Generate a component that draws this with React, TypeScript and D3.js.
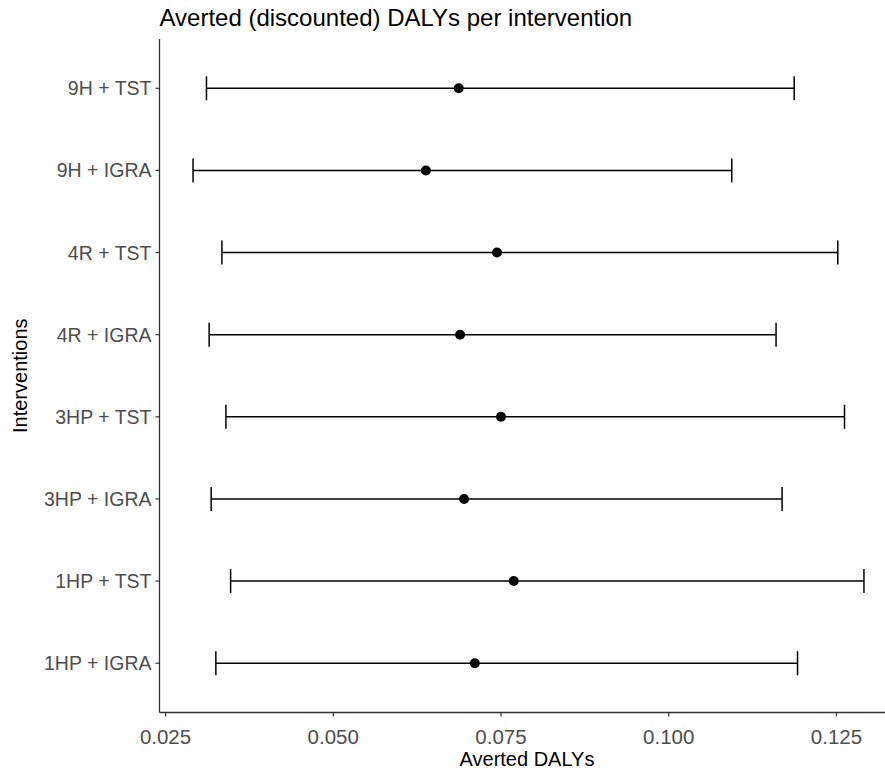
import React from "react";
import * as d3 from "d3";

const interventions = [
  "9H + TST",
  "9H + IGRA",
  "4R + TST",
  "4R + IGRA",
  "3HP + TST",
  "3HP + IGRA",
  "1HP + TST",
  "1HP + IGRA",
];
const meanDalys = [0.0687, 0.0638, 0.0744, 0.0689, 0.075, 0.0695, 0.0769, 0.0711];
const lowerDalys = [0.0311, 0.0291, 0.0334, 0.0315, 0.034, 0.0318, 0.0347, 0.0325];
const upperDalys = [0.1187, 0.1094, 0.1252, 0.116, 0.1262, 0.1169, 0.1291, 0.1192];
const xTicks = [0.025, 0.05, 0.075, 0.1, 0.125];

const W = 885;
const H = 772;
const FONT = "'Liberation Sans', Arial, sans-serif";

export default function App() {
  const left = 159.5;
  const top = 39;
  const bottom = 712.5;

  const lo = d3.min(lowerDalys) as number;
  const hi = d3.max(upperDalys) as number;
  const pad = (hi - lo) * 0.05;
  const x = d3.scaleLinear().domain([lo - pad, hi + pad]).range([left, 897.5]);

  const y = d3
    .scalePoint<string>()
    .domain(interventions)
    .range([top, bottom])
    .padding(0.6);

  const capHalf = 12;

  return (
    <svg
      width={W}
      height={H}
      style={{ position: "absolute", left: 0, top: 0, background: "#fff" }}
      fontFamily={FONT}
    >
      <text x={left} y={26} fontSize={24} fill="#000">
        Averted (discounted) DALYs per intervention
      </text>

      {/* error bars */}
      {interventions.map((k, i) => {
        const cy = y(k) as number;
        const x0 = x(lowerDalys[i]);
        const x1 = x(upperDalys[i]);
        return (
          <g key={k} stroke="#000" strokeWidth={1.5} fill="none">
            <line x1={x0} x2={x1} y1={cy} y2={cy} />
            <line x1={x0} x2={x0} y1={cy - capHalf} y2={cy + capHalf} />
            <line x1={x1} x2={x1} y1={cy - capHalf} y2={cy + capHalf} />
          </g>
        );
      })}

      {/* mean points */}
      {interventions.map((k, i) => (
        <circle key={k} cx={x(meanDalys[i])} cy={y(k) as number} r={5} fill="#000" />
      ))}

      {/* axes */}
      <line x1={left} x2={left} y1={top} y2={bottom} stroke="#333" strokeWidth={1.3} />
      <line x1={left} x2={W} y1={bottom} y2={bottom} stroke="#333" strokeWidth={1.3} />

      {interventions.map((k) => {
        const cy = y(k) as number;
        return (
          <g key={k}>
            <line x1={left - 4} x2={left} y1={cy} y2={cy} stroke="#333" strokeWidth={1.2} />
            <text
              x={left - 8}
              y={cy}
              dy="0.36em"
              textAnchor="end"
              fontSize={19.5}
              fill="#4d4d4d"
            >
              {k}
            </text>
          </g>
        );
      })}

      {xTicks.map((t) => (
        <g key={t}>
          <line x1={x(t)} x2={x(t)} y1={bottom} y2={bottom + 4} stroke="#333" strokeWidth={1.2} />
          <text x={x(t)} y={bottom + 31} textAnchor="middle" fontSize={20.5} fill="#4d4d4d">
            {d3.format(".3f")(t)}
          </text>
        </g>
      ))}

      <text x={527} y={766} textAnchor="middle" fontSize={20} fill="#000">
        Averted DALYs
      </text>
      <text
        transform={`translate(27, ${(top + bottom) / 2}) rotate(-90)`}
        textAnchor="middle"
        fontSize={20}
        fill="#000"
      >
        Interventions
      </text>
    </svg>
  );
}
